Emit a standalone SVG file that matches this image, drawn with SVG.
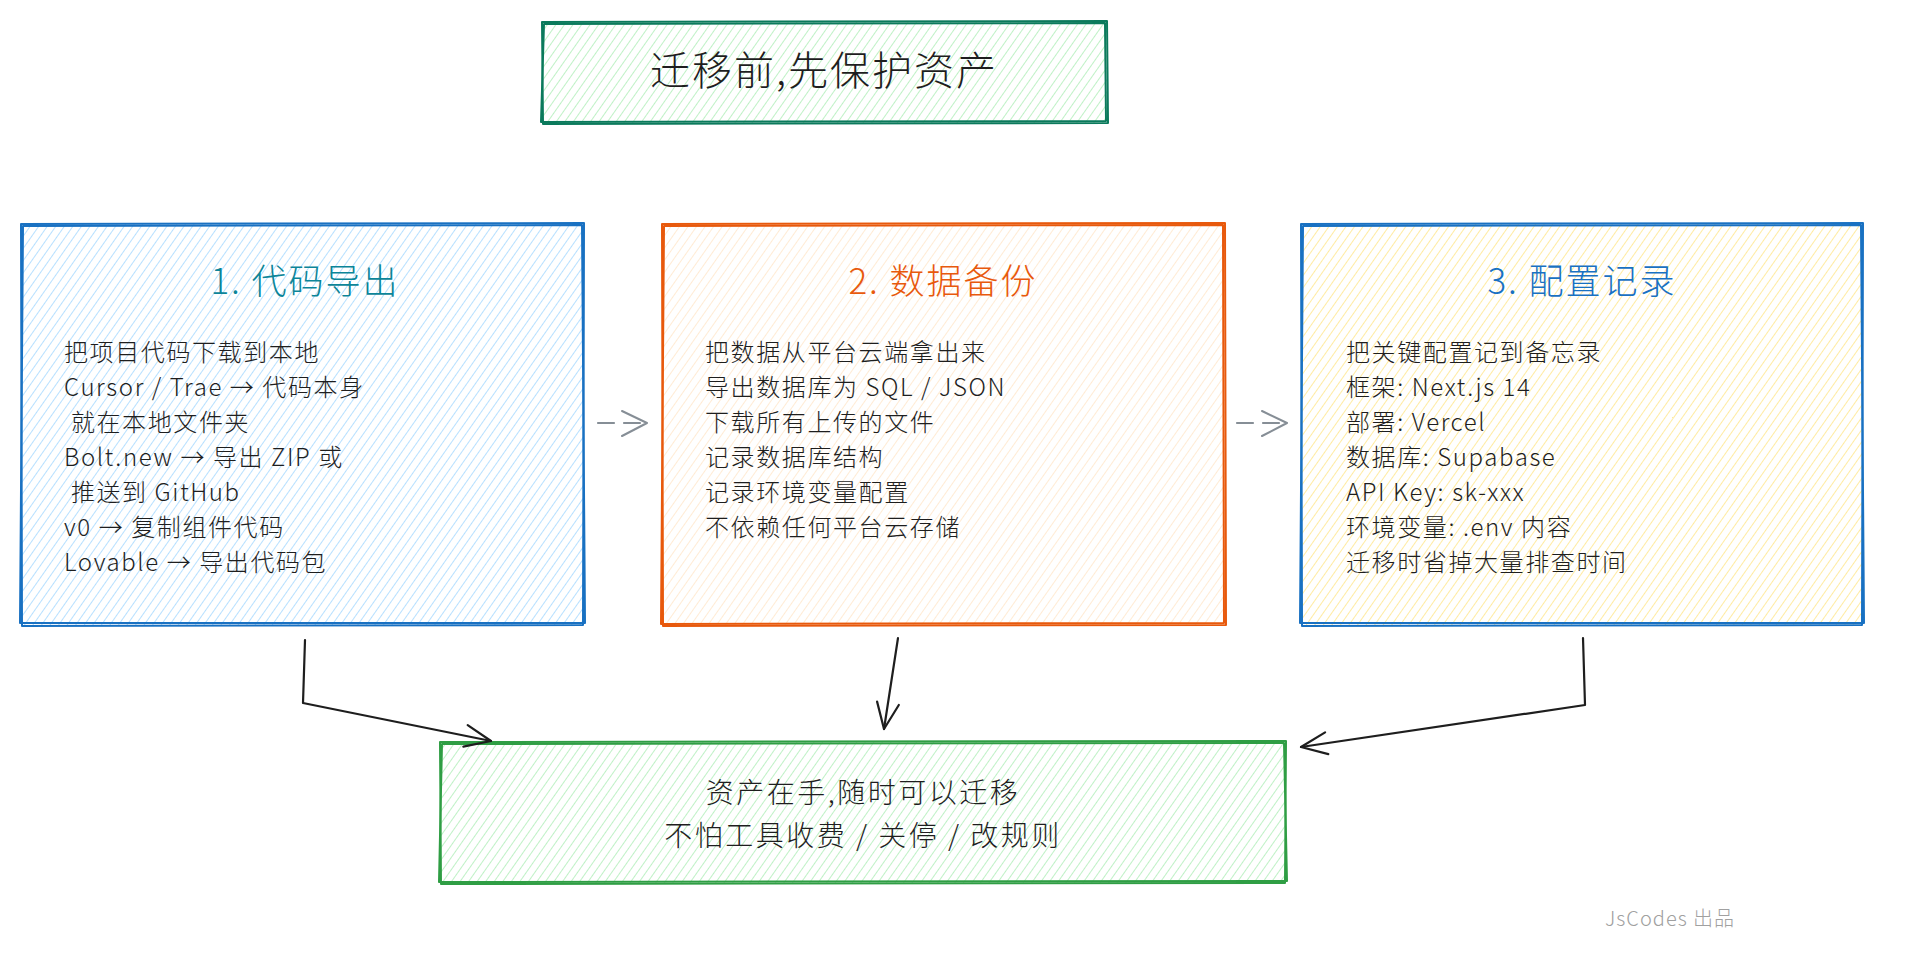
<svg xmlns="http://www.w3.org/2000/svg" width="1928" height="964" viewBox="0 0 1928 964">
<defs>
<pattern id="hGreen" patternUnits="userSpaceOnUse" width="7" height="8" patternTransform="rotate(35)"><line x1="0" y1="0" x2="0" y2="8" stroke="#a9ecb3" stroke-width="1.5"/></pattern>
<pattern id="hBlue" patternUnits="userSpaceOnUse" width="7" height="8" patternTransform="rotate(35)"><line x1="0" y1="0" x2="0" y2="8" stroke="#a5d8ff" stroke-width="1.6"/></pattern>
<pattern id="hOrange" patternUnits="userSpaceOnUse" width="7" height="8" patternTransform="rotate(35)"><line x1="0" y1="0" x2="0" y2="8" stroke="#ffe0bd" stroke-width="1.3"/></pattern>
<pattern id="hYellow" patternUnits="userSpaceOnUse" width="7" height="8" patternTransform="rotate(35)"><line x1="0" y1="0" x2="0" y2="8" stroke="#ffe68a" stroke-width="1.6"/></pattern>
<marker id="ah" markerUnits="userSpaceOnUse" markerWidth="40" markerHeight="40" refX="0" refY="0" viewBox="-30 -20 40 40" orient="auto"><path d="M-26,-11 L0,0 L-26,11" fill="none" stroke="#1e1e1e" stroke-width="2.2" stroke-linecap="round" stroke-linejoin="round"/></marker>
<marker id="ahg" markerUnits="userSpaceOnUse" markerWidth="40" markerHeight="40" refX="0" refY="0" viewBox="-30 -20 40 40" orient="auto"><path d="M-25,-12 L0,0 L-25,13" fill="none" stroke="#868e96" stroke-width="2" stroke-linecap="round" stroke-linejoin="round"/></marker>
</defs>
<style>
text{font-family:"Noto Sans CJK SC","Noto Sans",sans-serif;font-weight:300;}
.body{font-size:24px;fill:#1e1e1e;letter-spacing:1.6px;}
.ttl{font-size:35px;letter-spacing:2px;text-anchor:middle;}
.edge{fill:none;stroke-width:2;stroke-linecap:round;stroke-linejoin:round;}
.conn{fill:none;stroke:#1e1e1e;stroke-width:2.2;stroke-linecap:round;stroke-linejoin:round;}
.dash{fill:none;stroke:#868e96;stroke-width:2.2;stroke-dasharray:16 10;stroke-linecap:round;}
</style>
<rect width="1928" height="964" fill="#ffffff"/>

<g id="title">
<rect x="542" y="22" width="565" height="101" fill="url(#hGreen)"/>
<path class="edge" stroke="#0b7a5c" d="M542,22 L1107,21 L1108,123 L543,124 Z"/>
<path class="edge" stroke="#0b7a5c" stroke-width="1.4" d="M544,24 L1105,23 L1106,121 L541,122 Z"/>
<text x="824" y="85" font-size="40" letter-spacing="2" text-anchor="middle" fill="#1e1e1e">迁移前,先保护资产</text>
</g>

<g id="box1">
<rect x="21" y="224" width="563" height="401" fill="url(#hBlue)"/>
<path class="edge" stroke="#1971c2" d="M21,224 L584,223 L583,625 L22,626 Z"/>
<path class="edge" stroke="#1971c2" stroke-width="1.4" d="M23,226 L582,225 L585,623 L20,623 Z"/>
<text class="ttl" x="305" y="294" fill="#0c8599">1. 代码导出</text>
<text class="body" x="64" y="361">把项目代码下载到本地</text>
<text class="body" x="64" y="396">Cursor / Trae → 代码本身</text>
<text class="body" x="64" y="431" xml:space="preserve"> 就在本地文件夹</text>
<text class="body" x="64" y="466">Bolt.new → 导出 ZIP 或</text>
<text class="body" x="64" y="501" xml:space="preserve"> 推送到 GitHub</text>
<text class="body" x="64" y="536">v0 → 复制组件代码</text>
<text class="body" x="64" y="571">Lovable → 导出代码包</text>
</g>

<g id="box2">
<rect x="662" y="224" width="563" height="401" fill="url(#hOrange)"/>
<path class="edge" stroke="#e8590c" d="M662,224 L1225,223 L1226,625 L663,626 Z"/>
<path class="edge" stroke="#e8590c" stroke-width="1.4" d="M664,226 L1223,225 L1224,623 L661,624 Z"/>
<text class="ttl" x="943" y="294" fill="#e8590c">2. 数据备份</text>
<text class="body" x="705" y="361">把数据从平台云端拿出来</text>
<text class="body" x="705" y="396">导出数据库为 SQL / JSON</text>
<text class="body" x="705" y="431">下载所有上传的文件</text>
<text class="body" x="705" y="466">记录数据库结构</text>
<text class="body" x="705" y="501">记录环境变量配置</text>
<text class="body" x="705" y="536">不依赖任何平台云存储</text>
</g>

<g id="box3">
<rect x="1301" y="224" width="562" height="401" fill="url(#hYellow)"/>
<path class="edge" stroke="#1971c2" d="M1301,224 L1863,223 L1862,625 L1302,626 Z"/>
<path class="edge" stroke="#1971c2" stroke-width="1.4" d="M1303,226 L1861,225 L1864,623 L1300,623 Z"/>
<text class="ttl" x="1582" y="294" fill="#1971c2">3. 配置记录</text>
<text class="body" x="1346" y="361">把关键配置记到备忘录</text>
<text class="body" x="1346" y="396">框架: Next.js 14</text>
<text class="body" x="1346" y="431">部署: Vercel</text>
<text class="body" x="1346" y="466">数据库: Supabase</text>
<text class="body" x="1346" y="501">API Key: sk-xxx</text>
<text class="body" x="1346" y="536">环境变量: .env 内容</text>
<text class="body" x="1346" y="571">迁移时省掉大量排查时间</text>
</g>

<g id="result">
<rect x="440" y="742" width="846" height="141" fill="url(#hGreen)"/>
<path class="edge" stroke="#2f9e44" d="M440,742 L1286,741 L1285,883 L441,884 Z"/>
<path class="edge" stroke="#2f9e44" stroke-width="1.4" d="M442,744 L1284,743 L1287,881 L439,882 Z"/>
<text x="863" y="803" font-size="28" letter-spacing="2.5" text-anchor="middle" fill="#1e1e1e">资产在手,随时可以迁移</text>
<text x="863" y="846" font-size="28" letter-spacing="2.5" text-anchor="middle" fill="#1e1e1e">不怕工具收费 / 关停 / 改规则</text>
</g>

<g id="connectors">
<path class="dash" d="M598,423 L647,423" marker-end="url(#ahg)"/>
<path class="dash" d="M1237,423 L1287,423" marker-end="url(#ahg)"/>
<path class="conn" d="M305,640 L303,703 L491,741" marker-end="url(#ah)"/>
<path class="conn" d="M898,638 L884,729" marker-end="url(#ah)"/>
<path class="conn" d="M1583,638 L1585,705 L1301,747" marker-end="url(#ah)"/>
</g>

<g id="credit">
<text x="1605" y="926" font-size="20" fill="#a0a0a0" letter-spacing="1">JsCodes 出品</text>
</g>
</svg>
